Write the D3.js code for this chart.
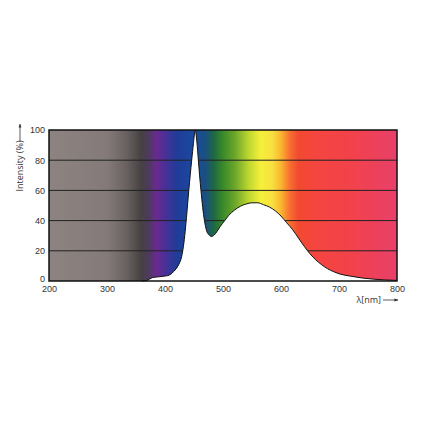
<!DOCTYPE html>
<html lang="en">
<head>
  <meta charset="UTF-8">
  <title>LED spectrum</title>
  <script src="https://d3js.org/d3.v7.min.js"></script>
  <style>
    body { margin: 0; background: #fff; font-family: 'Open Sans', sans-serif; }
    svg text { fill: #333; font-size: 9px; }
  </style>
</head>
<body>
  <div id="chart"></div>
  <script>
    // spectrum
    const wavelength = [360, 368, 379, 390, 400, 405, 410, 415, 420, 425, 428, 431, 434, 437, 441, 446, 449, 452, 455, 457.5, 462, 468, 472, 476, 480, 485, 490, 495, 503, 510, 520, 530, 540, 550, 560, 570, 580, 590, 600, 610, 620, 630, 640, 650, 660, 670, 680, 690, 700, 720, 740, 760, 780, 800];
    const intensity  = [0, 0.3, 2.3, 2.8, 3.3, 3.6, 4.5, 6.3, 8.5, 12, 15, 21, 30, 42, 60, 80, 91, 100, 92, 80, 60, 40, 33, 30.5, 29.5, 30.5, 33, 36, 40, 43.5, 47, 49.5, 51, 51.8, 51.8, 50.5, 49, 46.5, 43, 38.5, 34, 28.5, 23, 18, 14, 10.8, 8.2, 6.3, 4.8, 3.2, 2, 1.2, 0.7, 0.4];

    const xTicks = [200, 300, 400, 500, 600, 700, 800];
    const yTicks = [0, 20, 40, 60, 80, 100];

    // background colour band
    const bandStops = [200, 300, 335, 358, 372, 385, 400, 420, 450, 470, 485, 500, 520, 545, 565, 585, 600, 615, 630, 660, 720, 800];
    const bandColors = ["#8d8482", "#847a79", "#686060", "#474242", "#4d3a5e", "#6a2a8e", "#4a3098", "#203c98", "#1a4aa0", "#1a5080", "#1f6a40", "#3a8a2a", "#6aa52a", "#c0d830", "#f5f03a", "#f8e040", "#fbb530", "#f87030", "#f24a30", "#f44540", "#f2424a", "#e8406a"];

    const data = wavelength.map((w, i) => ({ w, v: intensity[i] }));

    const W = 423, H = 423;
    const margin = { left: 49, right: 26, top: 130, bottom: 142 };
    const width = W - margin.left - margin.right;
    const height = H - margin.top - margin.bottom;

    const svg = d3.select("#chart").append("svg")
      .attr("width", W)
      .attr("height", H);

    const g = svg.append("g")
      .attr("transform", `translate(${margin.left},${margin.top})`);

    const x = d3.scaleLinear().domain([200, 800]).range([0, width]);
    const y = d3.scaleLinear().domain([0, 100]).range([height, 0]);

    const grad = svg.append("defs").append("linearGradient")
      .attr("id", "band")
      .attr("gradientUnits", "userSpaceOnUse")
      .attr("x1", x(200)).attr("x2", x(800))
      .attr("y1", 0).attr("y2", 0);

    grad.selectAll("stop")
      .data(bandStops)
      .enter()
      .append("stop")
      .attr("offset", d => (x(d) - x(200)) / (x(800) - x(200)))
      .attr("stop-color", (d, i) => bandColors[i]);

    g.append("rect")
      .attr("width", width)
      .attr("height", height)
      .attr("fill", "url(#band)");

    // gridlines
    g.append("g")
      .selectAll("line")
      .data(yTicks.filter(t => t > 0 && t < 100))
      .enter()
      .append("line")
      .attr("x1", 0)
      .attr("x2", width)
      .attr("y1", d => y(d))
      .attr("y2", d => y(d))
      .attr("stroke", "#222")
      .attr("stroke-width", 1);

    const area = d3.area()
      .x(d => x(d.w))
      .y0(y(0))
      .y1(d => y(d.v))
      .curve(d3.curveMonotoneX);

    const line = d3.line()
      .x(d => x(d.w))
      .y(d => y(d.v))
      .curve(d3.curveMonotoneX);

    g.append("path")
      .datum(data)
      .attr("fill", "#fff")
      .attr("d", area);

    g.append("path")
      .datum(data)
      .attr("fill", "none")
      .attr("stroke", "#111")
      .attr("stroke-width", 1)
      .attr("d", line);

    g.append("rect")
      .attr("width", width)
      .attr("height", height)
      .attr("fill", "none")
      .attr("stroke", "#111")
      .attr("stroke-width", 1.5);

    // axes (labels only)
    const xAxis = g.append("g")
      .attr("transform", `translate(0,${height})`)
      .call(d3.axisBottom(x).tickValues(xTicks).tickSize(0).tickPadding(5));
    xAxis.select(".domain").remove();
    xAxis.selectAll("text").style("font-size", "9px").attr("fill", "#333");

    const yAxis = g.append("g")
      .call(d3.axisLeft(y).tickValues(yTicks).tickSize(0).tickPadding(4));
    yAxis.select(".domain").remove();
    yAxis.selectAll("text").style("font-size", "9px").attr("fill", "#333");
    // the "0" sits right above "200", lift it a touch
    yAxis.selectAll("text").filter(d => d === 0).attr("dy", "0.1em");

    svg.append("defs").append("marker")
      .attr("id", "arrow")
      .attr("viewBox", "0 0 10 10")
      .attr("refX", 9).attr("refY", 5)
      .attr("markerWidth", 5).attr("markerHeight", 5)
      .attr("orient", "auto")
      .append("path")
      .attr("d", "M0,1.5L10,5L0,8.5Z")
      .attr("fill", "#333");

    // y title with arrow
    svg.append("text")
      .attr("transform", "translate(23,166) rotate(-90)")
      .attr("text-anchor", "middle")
      .text("Intensity (%)");
    svg.append("line")
      .attr("x1", 20).attr("x2", 20)
      .attr("y1", 142).attr("y2", 124)
      .attr("stroke", "#333").attr("stroke-width", 0.8)
      .attr("marker-end", "url(#arrow)");

    // x title with arrow
    svg.append("text")
      .attr("x", 381)
      .attr("y", 303)
      .attr("text-anchor", "end")
      .text("λ[nm]");
    svg.append("line")
      .attr("x1", 383).attr("x2", 398)
      .attr("y1", 300).attr("y2", 300)
      .attr("stroke", "#333").attr("stroke-width", 0.8)
      .attr("marker-end", "url(#arrow)");
  </script>
</body>
</html>
